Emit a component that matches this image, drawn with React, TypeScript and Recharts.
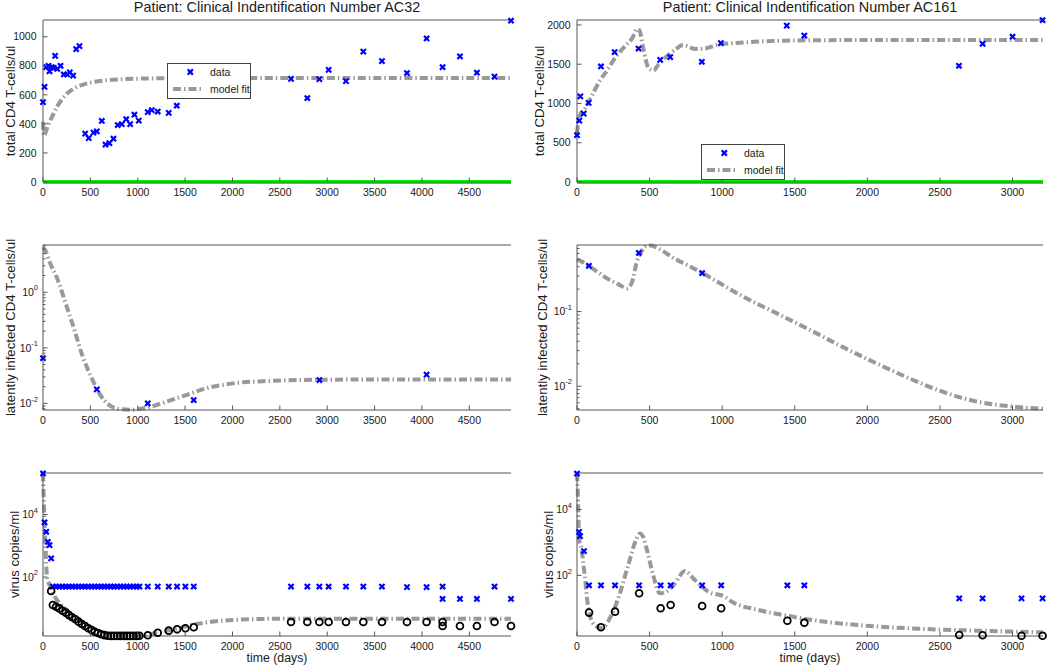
import React from 'react';
import { ComposedChart, Line, Scatter, XAxis, YAxis, Legend } from 'recharts';

const FONT = '"Liberation Sans", Arial, Helvetica, sans-serif';
const AXIS_COLOR = '#555555';
const TEXT_COLOR = '#1a1a1a';
const BLUE = '#0000ff';
const GRAY = '#999999';
const GREEN = '#00ff00';
const DASH = '8 3 1.5 3';
const TICK_FS = 10.5;

// ---------------- axes ----------------
const xTicksAC32 = [0, 500, 1000, 1500, 2000, 2500, 3000, 3500, 4000, 4500];
const xTicksAC161 = [0, 500, 1000, 1500, 2000, 2500, 3000];
const xDomainAC32: [number, number] = [0, 4940];
const xDomainAC161: [number, number] = [0, 3210];

const yTicksCd4AC32 = [0, 200, 400, 600, 800, 1000];
const yTicksCd4AC161 = [0, 500, 1000, 1500, 2000];
const yMajorLatentAC32 = [0.01, 0.1, 1];
const yMinorLatentAC32 = [0.008, 0.009, 0.02, 0.03, 0.04, 0.05, 0.06, 0.07, 0.08, 0.09, 0.2, 0.3, 0.4, 0.5, 0.6, 0.7, 0.8, 0.9, 2, 3, 4, 5, 6, 7];
const yMajorLatentAC161 = [0.01, 0.1];
const yMinorLatentAC161 = [0.005, 0.006, 0.007, 0.008, 0.009, 0.02, 0.03, 0.04, 0.05, 0.06, 0.07, 0.08, 0.09, 0.2, 0.3, 0.4, 0.5, 0.6, 0.7];
const yMajorVirus = [100, 10000];

// ---------------- AC32 ----------------
const ac32Cd4Days = [0, 16, 34, 58, 69, 93, 114, 128, 150, 185, 220, 255, 283, 318, 350, 385, 445, 483, 533, 568, 621, 660, 701, 744, 789, 832, 878, 920, 965, 1011, 1106, 1148, 1211, 1327, 1412, 2618, 2790, 2917, 3015, 3198, 3381, 3578, 3842, 4049, 4218, 4401, 4580, 4766, 4940];
const ac32Cd4Counts = [550, 655, 790, 800, 762, 790, 785, 868, 778, 800, 740, 740, 755, 732, 915, 935, 333, 302, 340, 348, 420, 258, 268, 298, 392, 398, 432, 398, 463, 422, 481, 495, 485, 476, 525, 710, 578, 708, 772, 694, 897, 832, 750, 988, 790, 865, 752, 725, 1110];
const ac32Cd4FitDays = [0, 8, 50, 100, 150, 225, 300, 400, 500, 600, 800, 1000, 1300, 1600, 2000, 4940];
const ac32Cd4Fit = [415, 318, 385, 455, 520, 590, 632, 665, 684, 695, 706, 711, 714, 715, 716, 716];
const ac32ZeroDays = [0, 4940];
const ac32Zero = [0, 0];

const ac32LatentDays = [0, 568, 1106, 1591, 2917, 4049];
const ac32Latent = [0.065, 0.0179, 0.01, 0.0115, 0.0263, 0.033];
const ac32LatentFitDays = [0, 22, 69, 156, 245, 332, 420, 508, 596, 701, 807, 947, 1089, 1300, 1511, 1722, 2002, 2354, 2705, 3200, 4940];
const ac32LatentFit = [6.5, 5.8, 3.55, 1.66, 0.59, 0.209, 0.069, 0.03, 0.015, 0.0093, 0.0079, 0.0077, 0.0083, 0.0107, 0.0141, 0.0186, 0.0229, 0.0252, 0.0263, 0.0268, 0.027];

const ac32VirusDays = [0, 16, 34, 51, 69, 86, 104, 138, 172, 206, 240, 274, 308, 342, 376, 410, 444, 478, 512, 546, 580, 614, 648, 682, 716, 750, 784, 818, 852, 886, 920, 954, 988, 1018, 1106, 1211, 1327, 1415, 1503, 1591, 2618, 2790, 2917, 3015, 3198, 3381, 3578, 3842, 4049, 4218, 4218, 4401, 4580, 4766, 4940];
const ac32Virus = [205000, 5600, 2800, 1340, 1050, 395, 50, 50, 50, 50, 50, 50, 50, 50, 50, 50, 50, 50, 50, 50, 50, 50, 50, 50, 50, 50, 50, 50, 50, 50, 50, 50, 50, 50, 50, 50, 50, 50, 50, 50, 50, 50, 50, 50, 50, 50, 50, 48, 48, 50, 20, 20, 20, 50, 20];
const ac32VirusModelDays = [86, 104, 138, 172, 206, 240, 274, 308, 342, 376, 410, 444, 478, 512, 546, 580, 614, 648, 682, 716, 750, 784, 818, 852, 886, 920, 954, 988, 1018, 1106, 1211, 1327, 1415, 1503, 1591, 2618, 2790, 2917, 3015, 3198, 3381, 3578, 3842, 4049, 4218, 4218, 4401, 4580, 4766, 4940];
const ac32VirusModel = [36, 12.8, 11.3, 10.0, 8.4, 7.3, 6.1, 5.2, 4.5, 3.76, 3.16, 2.73, 2.31, 2.04, 1.8, 1.64, 1.49, 1.4, 1.34, 1.32, 1.32, 1.32, 1.32, 1.32, 1.32, 1.32, 1.32, 1.32, 1.33, 1.38, 1.67, 1.94, 2.14, 2.31, 2.49, 3.67, 3.67, 3.67, 3.67, 3.67, 3.67, 3.67, 3.67, 3.67, 3.67, 2.74, 2.74, 2.74, 3.67, 2.74];
const ac32VirusFitDays = [0, 10, 20, 26, 40, 69, 90, 120, 180, 250, 330, 420, 520, 620, 720, 820, 920, 1020, 1150, 1300, 1450, 1600, 1800, 2000, 2200, 2500, 4940];
const ac32VirusFit = [205000, 20000, 3000, 1000, 120, 55, 38, 25, 14, 9, 5.5, 3.6, 2.4, 1.75, 1.45, 1.34, 1.32, 1.36, 1.55, 1.9, 2.4, 3.1, 3.8, 4.25, 4.5, 4.65, 4.65];

// ---------------- AC161 ----------------
const ac161Cd4Days = [0, 16, 23, 46, 80, 165, 259, 424, 573, 642, 860, 991, 1445, 1566, 2631, 2794, 3000, 3207];
const ac161Cd4Counts = [596, 782, 1091, 871, 1007, 1471, 1654, 1700, 1556, 1590, 1531, 1768, 1991, 1864, 1480, 1760, 1850, 2060];
const ac161Cd4FitDays = [0, 10, 25, 50, 100, 160, 200, 270, 330, 380, 415, 430, 458, 493, 527, 562, 631, 680, 730, 815, 883, 975, 1100, 1250, 1600, 2000, 3210];
const ac161Cd4Fit = [620, 780, 870, 920, 1090, 1300, 1400, 1600, 1730, 1830, 1950, 1930, 1690, 1450, 1420, 1500, 1620, 1690, 1745, 1695, 1700, 1750, 1770, 1789, 1805, 1808, 1808];
const ac161ZeroDays = [0, 3210];
const ac161Zero = [0, 0];

const ac161LatentDays = [82, 426, 862];
const ac161Latent = [0.41, 0.61, 0.327];
const ac161LatentFitDays = [0, 40, 82, 150, 218, 290, 344, 378, 410, 440, 480, 510, 560, 677, 760, 862, 1000, 1136, 1365, 1595, 1824, 2054, 2283, 2513, 2742, 2972, 3210];
const ac161LatentFit = [0.5, 0.46, 0.41, 0.33, 0.27, 0.23, 0.205, 0.245, 0.45, 0.62, 0.76, 0.77, 0.7, 0.506, 0.42, 0.33, 0.23, 0.162, 0.097, 0.058, 0.034, 0.0206, 0.0129, 0.0085, 0.0063, 0.0054, 0.005];

const ac161VirusDays = [0, 14, 21, 48, 83, 165, 262, 428, 576, 645, 862, 993, 1449, 1566, 2633, 2794, 3062, 3207];
const ac161Virus = [124000, 2100, 1550, 545, 50, 50, 50, 50, 50, 50, 50, 50, 50, 50, 20, 20, 20, 20];
const ac161VirusModelDays = [83, 165, 262, 428, 576, 645, 862, 993, 1449, 1566, 2633, 2794, 3062, 3207];
const ac161VirusModel = [7.4, 2.65, 7.9, 28.5, 10, 12.6, 11.7, 10, 4.2, 3.66, 1.55, 1.52, 1.47, 1.46];
const ac161VirusFitDays = [0, 7, 14, 30, 53, 69, 88, 122, 170, 238, 284, 353, 410, 433, 455, 479, 525, 571, 617, 674, 743, 812, 904, 1018, 1067, 1250, 1480, 1709, 1938, 2397, 2856, 3207];
const ac161VirusFit = [125000, 21000, 1300, 660, 100, 20, 6.3, 3.1, 2.5, 6.3, 20, 205, 1300, 1870, 1500, 660, 100, 28.5, 32, 57, 135, 72, 32, 22.5, 15.8, 8.9, 5.6, 3.9, 3.1, 2.35, 2.04, 1.86];

const zip = (t: number[], v: number[]) => t.map((ti, i) => ({ t: ti, v: v[i] }));

// ---------------- marks ----------------
const XMark = (props: any) => {
  const { cx, cy } = props;
  if (cx == null || cy == null || isNaN(cx) || isNaN(cy)) return <g />;
  const s = 2.6;
  return (
    <path
      d={`M${cx - s},${cy - s}L${cx + s},${cy + s}M${cx - s},${cy + s}L${cx + s},${cy - s}`}
      stroke={BLUE}
      strokeWidth={2.2}
      fill="none"
    />
  );
};

const OMark = (props: any) => {
  const { cx, cy } = props;
  if (cx == null || cy == null || isNaN(cx) || isNaN(cy)) return <g />;
  return <circle cx={cx} cy={cy} r={3.4} stroke="#000" strokeWidth={1.8} fill="none" />;
};

// ---------------- ticks ----------------
const TICK_LEN = 4.5;
const MINOR_LEN = 2.5;

const isIn = (arr: number[] | null, v: number) =>
  arr ? arr.some((m) => Math.abs(m - v) <= Math.abs(m) * 1e-6) : true;

const bottomTick = (props: any) => {
  const { x, y, payload } = props;
  return (
    <g>
      <line x1={x} x2={x} y1={y} y2={y - TICK_LEN} stroke={AXIS_COLOR} strokeWidth={1} />
      <text x={x} y={y + 14} textAnchor="middle" fontSize={TICK_FS} fontFamily={FONT} fill={TEXT_COLOR}>
        {payload.value}
      </text>
    </g>
  );
};

const topTick = (props: any) => {
  const { x, y } = props;
  return <line x1={x} x2={x} y1={y} y2={y + TICK_LEN} stroke={AXIS_COLOR} strokeWidth={1} />;
};

const makeLeftTick = (majors: number[] | null, log: boolean) => (props: any) => {
  const { x, y, payload } = props;
  const v = payload.value;
  const major = isIn(majors, v);
  const len = major ? TICK_LEN : MINOR_LEN;
  let label: any = null;
  if (major) {
    if (log) {
      const e = Math.round(Math.log10(v));
      label = (
        <text x={x - 5} y={y + 3.7} textAnchor="end" fontSize={TICK_FS} fontFamily={FONT} fill={TEXT_COLOR}>
          <tspan>10</tspan>
          <tspan dy={-5.5} fontSize={7.5}>{String(e)}</tspan>
        </text>
      );
    } else {
      label = (
        <text x={x - 6.5} y={y + 3.7} textAnchor="end" fontSize={TICK_FS} fontFamily={FONT} fill={TEXT_COLOR}>
          {v}
        </text>
      );
    }
  }
  return (
    <g>
      <line x1={x} x2={x + len} y1={y} y2={y} stroke={AXIS_COLOR} strokeWidth={1} />
      {label}
    </g>
  );
};

const makeRightTick = (majors: number[] | null) => (props: any) => {
  const { x, y, payload } = props;
  const major = isIn(majors, payload.value);
  const len = major ? TICK_LEN : MINOR_LEN;
  return <line x1={x} x2={x - len} y1={y} y2={y} stroke={AXIS_COLOR} strokeWidth={1} />;
};

// ---------------- legend ----------------
const LegendBox = () => (
  <svg width={84} height={36} style={{ display: 'block' }}>
    <rect x={0.5} y={0.5} width={83} height={35} fill="#fff" stroke="#444" strokeWidth={1} />
    <path d="M20.7,6.4L25.9,11.6M20.7,11.6L25.9,6.4" stroke={BLUE} strokeWidth={2.2} fill="none" />
    <text x={43} y={13} fontSize={10.5} fontFamily={FONT} fill={TEXT_COLOR}>data</text>
    <line x1={6} x2={36} y1={26} y2={26} stroke={GRAY} strokeWidth={4} strokeDasharray={DASH} />
    <text x={43} y={29.7} fontSize={10.5} fontFamily={FONT} fill={TEXT_COLOR}>model fit</text>
  </svg>
);

// ---------------- panel ----------------
type PanelProps = {
  left: number;
  top: number;
  yAxisWidth: number;
  marginRight: number;
  topH: number;
  bottomH: number;
  xDomain: [number, number];
  xTicks: number[];
  log: boolean;
  yDomain: [number, number];
  yTicks: number[];
  yMajors: number[] | null;
  title?: string;
  yLabel: string;
  yLabelX: number;
  xLabel?: string;
  legendPos?: { left: number; top: number };
  children: any;
};

const W = 525;
const H = 222;

function Panel(p: PanelProps) {
  const plotTop = p.topH;
  const plotBottom = H - p.bottomH;
  const plotLeft = p.yAxisWidth;
  const plotRight = W - p.marginRight;
  const cx = (plotLeft + plotRight) / 2;
  const cy = (plotTop + plotBottom) / 2;
  const scale = p.log ? 'log' : 'linear';
  return (
    <div style={{ position: 'absolute', left: p.left, top: p.top, width: W, height: H }}>
      <ComposedChart width={W} height={H} margin={{ top: 0, right: p.marginRight, bottom: 0, left: 0 }}>
        <XAxis
          dataKey="t"
          type="number"
          orientation="bottom"
          domain={p.xDomain}
          ticks={p.xTicks}
          interval={0}
          height={p.bottomH}
          tickSize={0}
          tickMargin={0}
          tickLine={false}
          tick={bottomTick}
          axisLine={{ stroke: AXIS_COLOR, strokeWidth: 1 }}
          label={
            p.xLabel
              ? () => (
                  <text x={cx} y={plotBottom + 26} textAnchor="middle" fontSize={12.3} fontFamily={FONT} fill={TEXT_COLOR}>
                    {p.xLabel}
                  </text>
                )
              : undefined
          }
        />
        <XAxis
          xAxisId="top"
          type="number"
          orientation="top"
          domain={p.xDomain}
          allowDataOverflow
          ticks={p.xTicks}
          interval={0}
          height={p.topH}
          tickSize={0}
          tickMargin={0}
          tickLine={false}
          tick={topTick}
          axisLine={{ stroke: AXIS_COLOR, strokeWidth: 1 }}
          label={
            p.title
              ? () => (
                  <text x={cx} y={12} textAnchor="middle" fontSize={14.4} fontFamily={FONT} fill={TEXT_COLOR}>
                    {p.title}
                  </text>
                )
              : undefined
          }
        />
        <YAxis
          dataKey="v"
          type="number"
          orientation="left"
          scale={scale}
          domain={p.yDomain}
          ticks={p.yTicks}
          interval={0}
          width={p.yAxisWidth}
          tickSize={0}
          tickMargin={0}
          tickLine={false}
          tick={makeLeftTick(p.yMajors, p.log)}
          axisLine={{ stroke: AXIS_COLOR, strokeWidth: 1 }}
          label={() => (
            <text
              x={p.yLabelX}
              y={cy}
              transform={`rotate(-90 ${p.yLabelX} ${cy})`}
              textAnchor="middle"
              fontSize={13.2}
              fontFamily={FONT}
              fill={TEXT_COLOR}
            >
              {p.yLabel}
            </text>
          )}
        />
        <YAxis
          yAxisId="right"
          type="number"
          orientation="right"
          scale={scale}
          domain={p.yDomain}
          allowDataOverflow
          ticks={p.yTicks}
          interval={0}
          width={0}
          tickSize={0}
          tickMargin={0}
          tickLine={false}
          tick={makeRightTick(p.yMajors)}
          axisLine={{ stroke: AXIS_COLOR, strokeWidth: 1 }}
        />
        {p.children}
        {p.legendPos ? (
          <Legend
            layout="horizontal"
            verticalAlign="middle"
            align="center"
            wrapperStyle={{ left: p.legendPos.left, top: p.legendPos.top, width: 84, height: 36 }}
            content={() => <LegendBox />}
          />
        ) : null}
      </ComposedChart>
    </div>
  );
}

const fitLine = (data: any[], name: string) => (
  <Line
    key={name}
    name={name}
    data={data}
    dataKey="v"
    type="monotone"
    stroke={GRAY}
    strokeWidth={4}
    strokeDasharray={DASH}
    dot={false}
    activeDot={false}
    isAnimationActive={false}
  />
);

export default function App() {
  return (
    <div style={{ position: 'absolute', left: 0, top: 0, width: 1050, height: 666, background: '#fff', fontFamily: FONT }}>
      {/* Row 1 */}
      <Panel
        left={0}
        top={0}
        yAxisWidth={43}
        marginRight={14}
        topH={20}
        bottomH={40}
        xDomain={xDomainAC32}
        xTicks={xTicksAC32}
        log={false}
        yDomain={[0, 1115]}
        yTicks={yTicksCd4AC32}
        yMajors={null}
        title="Patient: Clinical Indentification Number AC32"
        yLabel="total CD4 T-cells/ul"
        yLabelX={15}
        legendPos={{ left: 167, top: 63 }}
      >
        <Scatter name="data" data={zip(ac32Cd4Days, ac32Cd4Counts)} dataKey="v" shape={XMark} isAnimationActive={false} />
        {fitLine(zip(ac32Cd4FitDays, ac32Cd4Fit), 'model fit')}
        <Line name="zero" data={zip(ac32ZeroDays, ac32Zero)} dataKey="v" stroke={GREEN} strokeWidth={4} dot={false} activeDot={false} isAnimationActive={false} />
      </Panel>
      <Panel
        left={525}
        top={0}
        yAxisWidth={52}
        marginRight={7}
        topH={20}
        bottomH={40}
        xDomain={xDomainAC161}
        xTicks={xTicksAC161}
        log={false}
        yDomain={[0, 2063]}
        yTicks={yTicksCd4AC161}
        yMajors={null}
        title="Patient: Clinical Indentification Number AC161"
        yLabel="total CD4 T-cells/ul"
        yLabelX={19.3}
        legendPos={{ left: 176, top: 144 }}
      >
        <Scatter name="data" data={zip(ac161Cd4Days, ac161Cd4Counts)} dataKey="v" shape={XMark} isAnimationActive={false} />
        {fitLine(zip(ac161Cd4FitDays, ac161Cd4Fit), 'model fit')}
        <Line name="zero" data={zip(ac161ZeroDays, ac161Zero)} dataKey="v" stroke={GREEN} strokeWidth={4} dot={false} activeDot={false} isAnimationActive={false} />
      </Panel>

      {/* Row 2 */}
      <Panel
        left={0}
        top={222}
        yAxisWidth={43}
        marginRight={14}
        topH={23}
        bottomH={34}
        xDomain={xDomainAC32}
        xTicks={xTicksAC32}
        log={true}
        yDomain={[0.0076, 7.1]}
        yTicks={[...yMajorLatentAC32, ...yMinorLatentAC32].sort((a, b) => a - b)}
        yMajors={yMajorLatentAC32}
        yLabel="latently infected CD4 T-cells/ul"
        yLabelX={15}
      >
        <Scatter name="data" data={zip(ac32LatentDays, ac32Latent)} dataKey="v" shape={XMark} isAnimationActive={false} />
        {fitLine(zip(ac32LatentFitDays, ac32LatentFit), 'model fit')}
      </Panel>
      <Panel
        left={525}
        top={222}
        yAxisWidth={52}
        marginRight={7}
        topH={23}
        bottomH={34}
        xDomain={xDomainAC161}
        xTicks={xTicksAC161}
        log={true}
        yDomain={[0.0048, 0.78]}
        yTicks={[...yMajorLatentAC161, ...yMinorLatentAC161].sort((a, b) => a - b)}
        yMajors={yMajorLatentAC161}
        yLabel="latently infected CD4 T-cells/ul"
        yLabelX={21.7}
      >
        <Scatter name="data" data={zip(ac161LatentDays, ac161Latent)} dataKey="v" shape={XMark} isAnimationActive={false} />
        {fitLine(zip(ac161LatentFitDays, ac161LatentFit), 'model fit')}
      </Panel>

      {/* Row 3 */}
      <Panel
        left={0}
        top={444}
        yAxisWidth={43}
        marginRight={14}
        topH={29}
        bottomH={30}
        xDomain={xDomainAC32}
        xTicks={xTicksAC32}
        log={true}
        yDomain={[1.31, 212000]}
        yTicks={yMajorVirus}
        yMajors={yMajorVirus}
        yLabel="virus copies/ml"
        yLabelX={19.3}
        xLabel="time (days)"
      >
        <Scatter name="data" data={zip(ac32VirusDays, ac32Virus)} dataKey="v" shape={XMark} isAnimationActive={false} />
        {fitLine(zip(ac32VirusFitDays, ac32VirusFit), 'model fit')}
        <Scatter name="model" data={zip(ac32VirusModelDays, ac32VirusModel)} dataKey="v" shape={OMark} isAnimationActive={false} />
      </Panel>
      <Panel
        left={525}
        top={444}
        yAxisWidth={52}
        marginRight={7}
        topH={29}
        bottomH={30}
        xDomain={xDomainAC161}
        xTicks={xTicksAC161}
        log={true}
        yDomain={[1.44, 128500]}
        yTicks={yMajorVirus}
        yMajors={yMajorVirus}
        yLabel="virus copies/ml"
        yLabelX={28.3}
        xLabel="time (days)"
      >
        <Scatter name="data" data={zip(ac161VirusDays, ac161Virus)} dataKey="v" shape={XMark} isAnimationActive={false} />
        {fitLine(zip(ac161VirusFitDays, ac161VirusFit), 'model fit')}
        <Scatter name="model" data={zip(ac161VirusModelDays, ac161VirusModel)} dataKey="v" shape={OMark} isAnimationActive={false} />
      </Panel>
    </div>
  );
}
